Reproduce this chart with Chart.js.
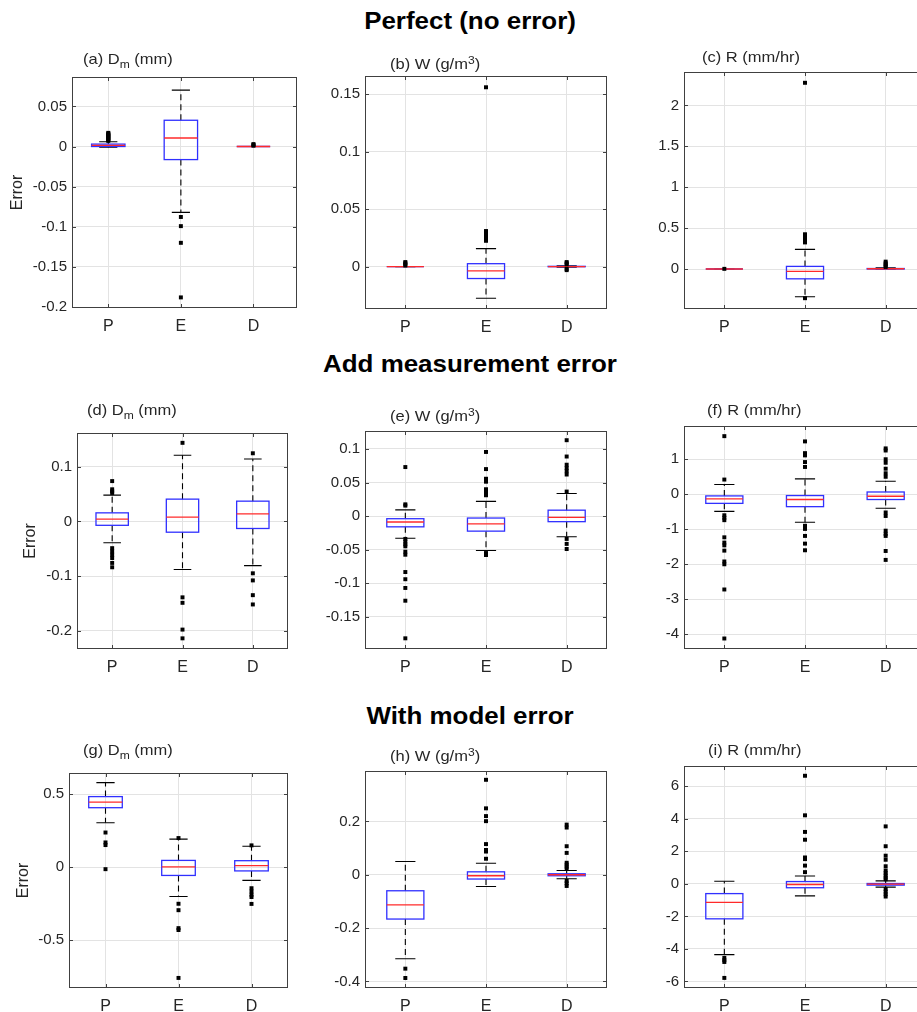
<!DOCTYPE html>
<html>
<head>
<meta charset="utf-8">
<script src="https://cdn.jsdelivr.net/npm/chart.js@4.4.0/dist/chart.umd.min.js"></script>
<style>
  html, body { margin: 0; padding: 0; background: #fff; overflow: hidden; }
  body { width: 917px; height: 1012px; position: relative; font-family: 'Liberation Sans', Arial, sans-serif; }
  canvas { position: absolute; }
  .section { position: absolute; left: 0; width: 940px; text-align: center; font-weight: bold;
             font-size: 24px; line-height: 24px; color: #000; transform: scaleX(1.08); transform-origin: 470px 0; }
  .ptitle { position: absolute; font-size: 15px; line-height: 15px; color: #262626; white-space: nowrap;
            transform: scaleX(1.1); transform-origin: 0 0; }
  .ptitle sub { font-size: 11px; vertical-align: -4px; line-height: 0; }
  .ptitle sup { font-size: 11px; vertical-align: 5px; line-height: 0; }
</style>
</head>
<body>

<script>
// retrieval groups on the x axis
const groups = ['P', 'E', 'D'];

// box statistics per group: [lower whisker, q1, median, q3, upper whisker]
// outliers per group: [P], [E], [D]

// Perfect (no error)
const dmPerfectStats = [[-0.001, 0, 0.0015, 0.003, 0.006], [-0.082, -0.0163, 0.0106, 0.0327, 0.0702], [0, 0, 0, 0, 0]];
const dmPerfectOut = [[0.007, 0.008, 0.009, 0.010, 0.011, 0.012, 0.013, 0.014, 0.015, 0.016, 0.017],
                      [-0.0878, -0.0992, -0.120, -0.188], [0.001, 0.002, 0.003]];
const wPerfectStats = [[0, 0, 0, 0, 0], [-0.0274, -0.0103, -0.0037, 0.0026, 0.0157], [-0.0005, 0, 0, 0.0003, 0.0008]];
const wPerfectOut = [[0.001, 0.002, 0.003, 0.004],
                     [0.0225, 0.024, 0.0255, 0.027, 0.0285, 0.030, 0.031, 0.156],
                     [-0.003, -0.002, 0.002, 0.003, 0.004]];
const rPerfectStats = [[0, 0, 0, 0, 0], [-0.34, -0.12, -0.028, 0.032, 0.24], [0, 0, 0.003, 0.006, 0.015]];
const rPerfectOut = [[0.002], [-0.357, 0.325, 0.345, 0.365, 0.385, 0.405, 0.425, 2.277], [0.025, 0.04, 0.055, 0.07, 0.09]];

// Add measurement error
const dmMeasStats = [[-0.039, -0.0072, 0.0042, 0.0156, 0.048], [-0.088, -0.0198, 0.0078, 0.0407, 0.121], [-0.081, -0.013, 0.0138, 0.037, 0.114]];
const dmMeasOut = [[0.0737, 0.0587, 0.055, 0.052, -0.049, -0.055, -0.061, -0.067, -0.076, -0.084],
                   [0.1437, -0.139, -0.149, -0.198, -0.214],
                   [0.1246, -0.095, -0.108, -0.135, -0.152]];
const wMeasStats = [[-0.0331, -0.016, -0.0088, -0.0039, 0.0093], [-0.0512, -0.0224, -0.0117, -0.0029, 0.0219], [-0.0307, -0.0083, -0.002, 0.0088, 0.0336]];
const wMeasOut = [[0.073, 0.0175, 0.0156, -0.034, -0.038, -0.042, -0.045, -0.053, -0.0575, -0.0833, -0.094, -0.107, -0.126, -0.182],
                  [0.0955, 0.070, 0.0556, 0.0512, 0.040, 0.035, 0.031, -0.055, -0.058],
                  [0.113, 0.0887, 0.0765, 0.0716, 0.0668, 0.0619, 0.0365, -0.034, -0.0414, -0.049]];
const rMeasStats = [[-0.49, -0.26, -0.13, -0.047, 0.28], [-0.80, -0.354, -0.15, -0.037, 0.44], [-0.4, -0.15, -0.056, 0.065, 0.37]];
const rMeasOut = [[1.66, 0.42, -0.6, -0.67, -0.74, -1.23, -1.38, -1.46, -1.61, -1.92, -2.0, -2.72, -4.12],
                  [1.51, 1.175, 1.11, 0.92, 0.78, -0.9, -0.99, -1.19, -1.41, -1.6],
                  [1.31, 1.25, 1.0, 0.9, 0.73, 0.6, 0.5, -0.52, -0.62, -1.04, -1.13, -1.19, -1.62, -1.875]];

// With model error
const dmModelStats = [[0.305, 0.408, 0.446, 0.484, 0.58], [-0.2, -0.056, 0.002, 0.047, 0.193], [-0.09, -0.025, 0.011, 0.045, 0.1435]];
const dmModelOut = [[0.238, 0.17, 0.152, -0.013],
                    [0.2, -0.25, -0.294, -0.417, -0.43, -0.758],
                    [0.15, -0.1435, -0.166, -0.188, -0.204, -0.251]];
const wModelStats = [[-0.315, -0.166, -0.113, -0.06, 0.05], [-0.044, -0.016, -0.0037, 0.011, 0.043], [-0.015, -0.0037, 0, 0.0037, 0.016]];
const wModelOut = [[-0.352, -0.387],
                   [0.356, 0.249, 0.22, 0.201, 0.115, 0.093, 0.087, 0.06],
                   [0.188, 0.177, 0.107, 0.082, 0.045, 0.038, 0.03, 0.023, -0.023, -0.032, -0.042]];
const rModelStats = [[-4.35, -2.15, -1.14, -0.6, 0.16], [-0.74, -0.24, -0.04, 0.14, 0.48], [-0.2, -0.08, -0.02, 0.02, 0.18]];
const rModelOut = [[-4.55, -4.69, -4.8, -5.78],
                   [6.64, 4.21, 3.19, 2.71, 1.62, 1.52, 1.12, 0.72],
                   [3.53, 2.31, 1.73, 1.48, 1.08, 0.82, 0.66, 0.52, 0.38, 0.28, -0.32, -0.48, -0.64, -0.78]];

// y tick labels per panel
const dmPerfectTicks = [-0.2, -0.15, -0.1, -0.05, 0, 0.05];
const wPerfectTicks = [0, 0.05, 0.1, 0.15];
const rPerfectTicks = [0, 0.5, 1, 1.5, 2];
const dmMeasTicks = [-0.2, -0.1, 0, 0.1];
const wMeasTicks = [-0.15, -0.1, -0.05, 0, 0.05, 0.1];
const rMeasTicks = [-4, -3, -2, -1, 0, 1];
const dmModelTicks = [-0.5, 0, 0.5];
const wModelTicks = [-0.4, -0.2, 0, 0.2];
const rModelTicks = [-6, -4, -2, 0, 2, 4, 6];

const sections = [['Perfect (no error)', 29], ['Add measurement error', 372], ['With model error', 724]];

// rect = plot area [left, top, right, bottom]; tpos = title [left, baseline]
const panels = [
  { stats: dmPerfectStats, out: dmPerfectOut, ticks: dmPerfectTicks, ylim: [-0.2012, 0.0866], xmax: 3.6,
    rect: [72, 73, 297, 308], title: '(a) D<sub>m</sub> (mm)', tpos: [83, 64], ylabelPad: 8.4 },
  { stats: wPerfectStats, out: wPerfectOut, ticks: wPerfectTicks, ylim: [-0.0368, 0.1658], xmax: 3.5,
    rect: [365, 72, 607, 309], title: '(b) W (g/m<sup>3</sup>)', tpos: [390, 69] },
  { stats: rPerfectStats, out: rPerfectOut, ticks: rPerfectTicks, ylim: [-0.489, 2.409], xmax: 3.5,
    rect: [684, 68, 926, 309], title: '(c) R (mm/hr)', tpos: [702, 62] },
  { stats: dmMeasStats, out: dmMeasOut, ticks: dmMeasTicks, ylim: [-0.2335, 0.1617], xmax: 3.5,
    rect: [77, 429, 288, 649], title: '(d) D<sub>m</sub> (mm)', tpos: [87, 415], ylabelPad: 21.4 },
  { stats: wMeasStats, out: wMeasOut, ticks: wMeasTicks, ylim: [-0.1979, 0.1267], xmax: 3.5,
    rect: [365, 427, 607, 649], title: '(e) W (g/m<sup>3</sup>)', tpos: [390, 421] },
  { stats: rMeasStats, out: rMeasOut, ticks: rMeasTicks, ylim: [-4.42, 1.95], xmax: 3.5,
    rect: [684, 422, 926, 649], title: '(f) R (mm/hr)', tpos: [707, 415] },
  { stats: dmModelStats, out: dmModelOut, ticks: dmModelTicks, ylim: [-0.827, 0.6457], xmax: 3.5,
    rect: [69, 769, 288, 988], title: '(g) D<sub>m</sub> (mm)', tpos: [83, 755], ylabelPad: 13.9 },
  { stats: wModelStats, out: wModelOut, ticks: wModelTicks, ylim: [-0.4245, 0.389], xmax: 3.5,
    rect: [365, 767, 607, 988], title: '(h) W (g/m<sup>3</sup>)', tpos: [390, 761] },
  { stats: rModelStats, out: rModelOut, ticks: rModelTicks, ylim: [-6.4, 7.24], xmax: 3.5,
    rect: [684, 762, 926, 988], title: '(i) R (mm/hr)', tpos: [708, 755] }
];

const FONT = "'Liberation Sans', Arial, sans-serif";
const TEXT = '#262626';
const GRID = '#e3e3e3';
const FRAME = '#404040';
const BOX_W = 0.46;
const CAP_W = 0.25;

Chart.defaults.font.family = FONT;

// whiskers, boxes and medians drawn through the chart's scales
function boxPlugin(p) {
  return {
    id: 'boxes',
    beforeDatasetsDraw(chart) {
      const { ctx, chartArea: a, scales: { x, y } } = chart;
      ctx.save();
      // axes frame with inward ticks
      ctx.strokeStyle = FRAME;
      ctx.lineWidth = 1;
      ctx.strokeRect(a.left + 0.5, a.top + 0.5, a.right - a.left - 1, a.bottom - a.top - 1);
      ctx.beginPath();
      p.ticks.forEach(v => {
        const py = Math.round(y.getPixelForValue(v)) + 0.5;
        ctx.moveTo(a.left, py); ctx.lineTo(a.left + 4, py);
        ctx.moveTo(a.right - 4, py); ctx.lineTo(a.right, py);
      });
      groups.forEach((g, i) => {
        const px = Math.round(x.getPixelForValue(i + 1)) + 0.5;
        ctx.moveTo(px, a.bottom); ctx.lineTo(px, a.bottom - 4);
        ctx.moveTo(px, a.top); ctx.lineTo(px, a.top + 4);
      });
      ctx.stroke();

      p.stats.forEach((s, i) => {
        const [lo, q1, med, q3, hi] = s;
        const cx = x.getPixelForValue(i + 1);
        const bw = (x.getPixelForValue(1 + BOX_W / 2) - x.getPixelForValue(1));
        const cw = (x.getPixelForValue(1 + CAP_W / 2) - x.getPixelForValue(1));
        const yLo = y.getPixelForValue(lo), yQ1 = y.getPixelForValue(q1), yMed = y.getPixelForValue(med);
        const yQ3 = y.getPixelForValue(q3), yHi = y.getPixelForValue(hi);

        // dashed whiskers
        ctx.strokeStyle = '#000';
        ctx.lineWidth = 1.1;
        ctx.setLineDash([6, 4]);
        ctx.beginPath();
        ctx.moveTo(cx, yQ3); ctx.lineTo(cx, yHi);
        ctx.moveTo(cx, yQ1); ctx.lineTo(cx, yLo);
        ctx.stroke();
        ctx.setLineDash([]);
        // whisker caps
        ctx.beginPath();
        ctx.moveTo(cx - cw, yHi); ctx.lineTo(cx + cw, yHi);
        ctx.moveTo(cx - cw, yLo); ctx.lineTo(cx + cw, yLo);
        ctx.stroke();
        // box
        ctx.strokeStyle = '#3030ff';
        ctx.lineWidth = 1.3;
        ctx.strokeRect(cx - bw, yQ3, bw * 2, yQ1 - yQ3);
        // median
        ctx.strokeStyle = '#ff2a2a';
        ctx.beginPath();
        ctx.moveTo(cx - bw, yMed); ctx.lineTo(cx + bw, yMed);
        ctx.stroke();
      });
      ctx.restore();
    }
  };
}

sections.forEach(([text, base]) => {
  const d = document.createElement('div');
  d.className = 'section';
  d.style.top = (base - 20.3) + 'px';
  d.textContent = text;
  document.body.appendChild(d);
});

panels.forEach(p => {
  const [L, T, R, B] = p.rect;
  const firstCol = p.ylabelPad !== undefined;
  const cl = firstCol ? 0 : L - 60;
  const yw = L - cl;
  const ct = T - 10;
  const canvas = document.createElement('canvas');
  canvas.width = R - cl + 10;
  canvas.height = B - ct + 30;
  canvas.style.left = cl + 'px';
  canvas.style.top = ct + 'px';
  document.body.appendChild(canvas);

  const t = document.createElement('div');
  t.className = 'ptitle';
  t.style.left = p.tpos[0] + 'px';
  t.style.top = (p.tpos[1] - 12.7) + 'px';
  t.innerHTML = p.title;
  document.body.appendChild(t);

  const points = [];
  p.out.forEach((vals, i) => vals.forEach(v => points.push({ x: i + 1, y: v })));

  new Chart(canvas, {
    type: 'scatter',
    data: {
      datasets: [{
        data: points,
        pointStyle: 'rect',
        pointRadius: 2.8,
        pointBackgroundColor: '#000',
        pointBorderWidth: 0,
        showLine: false
      }]
    },
    options: {
      responsive: false,
      animation: false,
      events: [],
      layout: { padding: { top: 10, right: 10, left: 0, bottom: 0 } },
      plugins: { legend: { display: false }, tooltip: { enabled: false } },
      scales: {
        x: {
          type: 'linear', min: 0.5, max: p.xmax,
          afterBuildTicks: s => { s.ticks = groups.map((g, i) => ({ value: i + 1 })); },
          afterFit: s => { s.height = 30; },
          grid: { color: GRID, drawTicks: false },
          border: { display: false },
          ticks: { padding: 9, color: TEXT, font: { size: 16 }, autoSkip: false, maxRotation: 0,
                   callback: v => groups[v - 1] }
        },
        y: {
          type: 'linear', min: p.ylim[0], max: p.ylim[1],
          afterBuildTicks: s => { s.ticks = p.ticks.map(v => ({ value: v })); },
          afterFit: s => { s.width = yw; },
          grid: { color: GRID, drawTicks: false },
          border: { display: false },
          ticks: { padding: 5, color: TEXT, font: { size: 15 }, autoSkip: false, callback: v => String(v) },
          title: { display: firstCol, text: 'Error', color: TEXT, font: { size: 16 },
                   padding: { top: firstCol ? p.ylabelPad : 0, bottom: 0 } }
        }
      }
    },
    plugins: [boxPlugin(p)]
  });
});
</script>
</body>
</html>
